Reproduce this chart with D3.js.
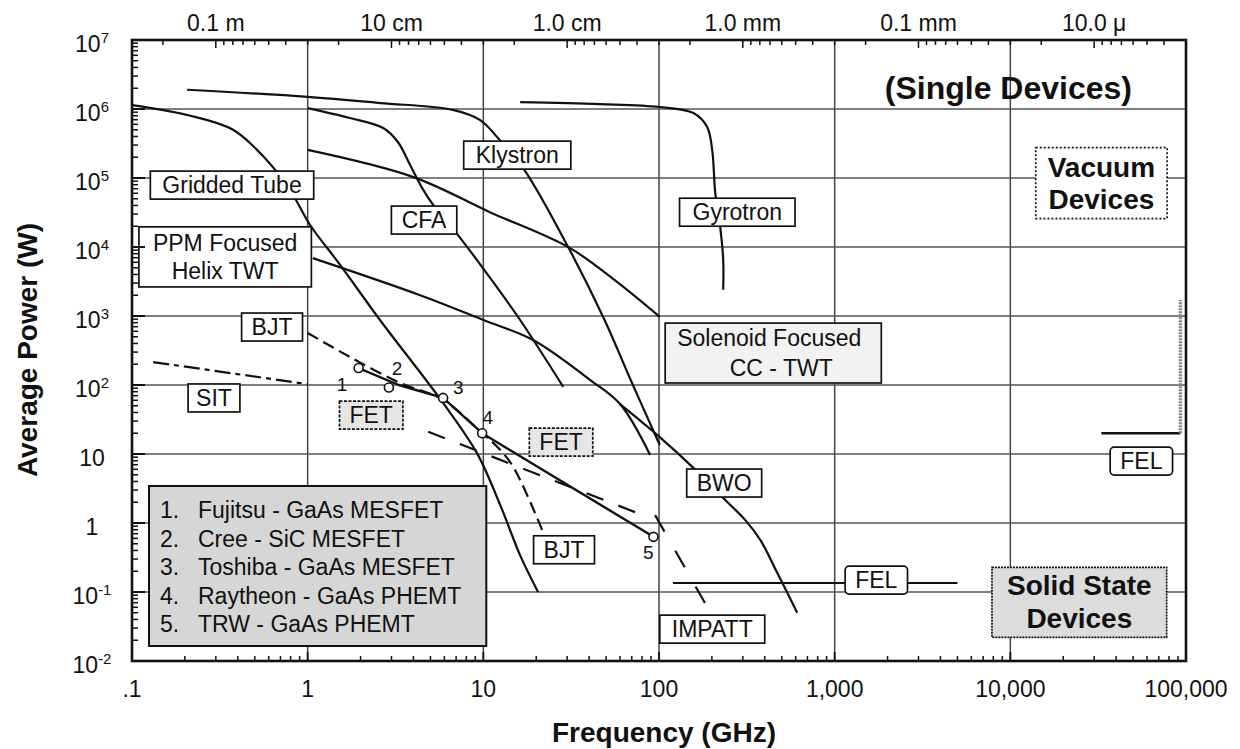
<!DOCTYPE html>
<html><head><meta charset="utf-8">
<script src="https://cdn.jsdelivr.net/npm/d3@7"></script>
<style>
body{margin:0;background:#fff;}
svg text{font-family:"Liberation Sans", Arial, Helvetica, sans-serif;fill:#111;}
</style></head><body>
<svg id="chart" width="1240" height="749"></svg>
<script>
// ---------------- data ----------------
const xTicks = [0.1, 1, 10, 100, 1000, 10000, 100000];
const xTickLabels = [".1", "1", "10", "100", "1,000", "10,000", "100,000"];
const yTicks = [1e-2, 1e-1, 1, 10, 1e2, 1e3, 1e4, 1e5, 1e6, 1e7];
const yTickBase = ["10", "10", "1", "10", "10", "10", "10", "10", "10", "10"];
const yTickExp = ["-2", "-1", "", "", "2", "3", "4", "5", "6", "7"];
const wavelengthFreqs = [0.3, 3, 30, 300, 3000, 30000];
const wavelengthLabels = ["0.1 m", "10 cm", "1.0 cm", "1.0 mm", "0.1 mm", "10.0 \u03bc"];

// vacuum devices  [GHz, W]
const klystron = [[0.206,1.9e6],[1,1.5e6],[2.6,1.22e6],[6.7,9.7e5],[9.6,6.9e5],[12,3.9e5],[17,1.35e5],[31,9.1e3],[49,875],[69,118],[101,13.5]];
const cfa = [[1,1.03e6],[1.74,7.4e5],[2.69,5.3e5],[3.27,3.3e5],[3.83,1.54e5],[4.48,7.2e4],[5.17,4.1e4],[7.1,1.54e4],[10.9,3.6e3],[16.2,875],[28.5,94]];
const griddedTube = [[0.1,1.14e6],[0.206,8.2e5],[0.376,5.0e5],[0.587,1.8e5],[0.794,6.7e4],[1.03,2.1e4],[1.53,5.5e3],[2.58,875],[5.9,55],[9.2,10.3],[12.5,1.8],[16.2,0.34],[20.5,0.1]];
const ccTwt = [[1,2.55e5],[4,1.03e5],[10.9,3.2e4],[31,9.7e3],[56,3.3e3],[101,970]];
const helixTwt = [[1.07,6.9e3],[4.37,2.0e3],[10,875],[19.2,449],[40.6,118],[60,53],[89,9.7]];
const bwo = [[60,53],[101,17.6],[157,6.3],[232,2.3],[310,1.1],[377,0.57],[471,0.19],[612,0.05]];
const gyrotron = [[16.2,1.26e6],[46,1.18e6],[101,1.07e6],[157,8.75e5],[188,5.5e5],[201,2.5e5],[209,6.1e4],[223,1.95e4],[232,6.5e3],[232,2.4e3]];
const felLow = [[120,0.135],[5000,0.135]];
const felHigh = [[33000,20],[93000,20]];
const felHighEdge = [[93000,20],[93000,1700]];

// solid state devices
const sit = [[0.132,215],[1,103]];
const bjt = [[1,568],[1.74,255],[3.36,107],[5.9,61],[9.85,20],[12.5,11.4],[14.8,6.5],[20.5,1.1],[22.5,0.61]];
const fetSolid = [[1.95,176],[3.3,100],[5.9,65],[9.85,20],[93,0.63]];
const fetDashed = [[4.85,21],[75,1.4]];
const impatt = [[95,1.3],[200,0.046]];

// individual device results
const deviceNums = ["1", "2", "3", "4", "5"];
const deviceFreq = [2.9, 1.95, 5.9, 9.85, 93];
const devicePower = [92, 176, 65, 20, 0.63];
const deviceNumFreq = [1.57, 3.23, 7.2, 10.6, 87];
const deviceNumPower = [103, 176, 91, 34, 0.37];

const legendItems = ["Fujitsu - GaAs MESFET", "Cree - SiC MESFET", "Toshiba - GaAs MESFET", "Raytheon - GaAs PHEMT", "TRW - GaAs PHEMT"];

// curve labels (text, anchor frequency GHz, anchor power W)
const curveLabels = [
  {lines:["Gridded Tube"], f:0.371, p:7.9e4, padX:12},
  {lines:["PPM Focused","Helix TWT"], f:0.339, p:7.2e3, padX:14, lh:1.22, padY:3},
  {lines:["CFA"], f:4.6, p:2.46e4},
  {lines:["Klystron"], f:15.6, p:2.15e5, padX:12},
  {lines:["Gyrotron"], f:279, p:3.2e4, padX:13},
  {lines:["Solenoid Focused","CC - TWT"], f:447, p:291, padX:16, lh:1.3, padY:2, fill:"#f2f2f2", shift:[-4,8]},
  {lines:["BJT"], f:0.627, p:693},
  {lines:["SIT"], f:0.293, p:65, padX:8},
  {lines:["FET"], f:2.3, p:36.7, fill:"#e6e6e6", dash:"3,1.5"},
  {lines:["FET"], f:27.7, p:14.9, fill:"#e6e6e6", dash:"3,1.5"},
  {lines:["BJT"], f:28.8, p:0.41},
  {lines:["BWO"], f:235, p:3.8},
  {lines:["IMPATT"], f:201, p:0.029, padX:12},
  {lines:["FEL"], f:1726, p:0.149, rx:4},
  {lines:["FEL"], f:55700, p:7.9, rx:4},
  {lines:["Vacuum","Devices"], f:33000, p:8.5e4, size:28, bold:true, lh:1.14, padX:12, padY:4, dash:"2,2"},
  {lines:["Solid State","Devices"], f:24700, p:0.0716, size:28, bold:true, lh:1.18, padX:15, padY:3, fill:"#dcdcdc", dash:"2,1"}
];

// ---------------- chart ----------------
const svg = d3.select("#chart");
const x = d3.scaleLog().domain([0.1, 1e5]).range([132, 1186]);
const y = d3.scaleLog().domain([1e-2, 1e7]).range([661, 40]);
const [X0, X1] = x.range(), [Y0, Y1] = [y.range()[1], y.range()[0]];

const gGrid = svg.append("g");
const gCurves = svg.append("g");
const gLabels = svg.append("g");
const gAxes = svg.append("g");

// grid
gGrid.selectAll(".vg").data(xTicks.slice(1, -1)).join("line")
  .attr("x1", d => x(d)).attr("x2", d => x(d)).attr("y1", Y0).attr("y2", Y1)
  .attr("stroke", "#444").attr("stroke-width", 1.5);
gGrid.selectAll(".hg").data(yTicks.slice(1, -1)).join("line")
  .attr("y1", d => y(d)).attr("y2", d => y(d)).attr("x1", X0).attr("x2", X1)
  .attr("stroke", "#555").attr("stroke-width", 1.7);

// curves
const smooth = d3.line().x(d => x(d[0])).y(d => y(d[1])).curve(d3.curveCatmullRom.alpha(0.5));
const straight = d3.line().x(d => x(d[0])).y(d => y(d[1]));
function curve(data, gen, opts = {}) {
  gCurves.append("path").attr("d", gen(data)).attr("fill", "none")
    .attr("stroke", opts.color || "#111").attr("stroke-width", opts.w || 2.2)
    .attr("stroke-dasharray", opts.dash || null).attr("stroke-linejoin", "round");
}
curve(klystron, smooth);
curve(cfa, smooth);
curve(griddedTube, smooth);
curve(ccTwt, smooth);
curve(helixTwt, smooth);
curve(bwo, smooth);
curve(gyrotron, smooth);
curve(felLow, straight);
curve(felHigh, straight, {w: 2.4});
curve(felHighEdge, straight, {color: "#888", w: 3.5, dash: "2,1"});
curve(sit, straight, {dash: "16,5,5,5"});
curve(bjt, smooth, {dash: "12,6"});
curve(fetSolid, straight, {w: 2.4});
curve(fetDashed, straight, {dash: "18,16"});
curve(impatt, straight, {dash: "19,22"});

// device points
gCurves.selectAll(".pt").data(deviceFreq).join("circle")
  .attr("cx", (d) => x(d)).attr("cy", (d, i) => y(devicePower[i])).attr("r", 4.5)
  .attr("fill", "#fff").attr("stroke", "#111").attr("stroke-width", 1.6);
gCurves.selectAll(".pn").data(deviceNums).join("text")
  .attr("x", (d, i) => x(deviceNumFreq[i])).attr("y", (d, i) => y(deviceNumPower[i]))
  .attr("dy", "0.35em").attr("text-anchor", "middle").attr("font-size", 19).text(d => d);

// labels
function boxLabel(o) {
  const size = o.size || 23;
  const cx = x(o.f), cy = y(o.p);
  const g = gLabels.append("g");
  const rect = g.append("rect");
  const t = g.append("text").attr("text-anchor", "middle").attr("font-size", size)
    .attr("font-weight", o.bold ? "bold" : "normal");
  const lh = size * (o.lh || 1.2), n = o.lines.length;
  o.lines.forEach((s, i) => {
    t.append("tspan").attr("x", cx + (o.shift ? o.shift[i] : 0))
      .attr("y", cy + (i - (n - 1) / 2) * lh).attr("dy", "0.35em").text(s);
  });
  const bb = t.node().getBBox();
  const px = o.padX ?? 10, py = o.padY ?? 1;
  const bw = bb.width;
  rect.attr("x", cx - bw / 2 - px).attr("y", bb.y - py)
    .attr("width", bw + 2 * px).attr("height", bb.height + 2 * py)
    .attr("rx", o.rx || 0)
    .attr("fill", o.fill || "#fff").attr("stroke", "#111").attr("stroke-width", 1.7)
    .attr("stroke-dasharray", o.dash || null);
}
curveLabels.forEach(boxLabel);

// "(Single Devices)"
gLabels.append("text").attr("x", x(9750)).attr("y", y(2.0e6)).attr("dy", "0.35em")
  .attr("text-anchor", "middle").attr("font-size", 32).attr("font-weight", "bold").text("(Single Devices)");

// legend
const legG = gLabels.append("g");
const legRect = legG.append("rect");
const legX = X0 + 28, legTop = 518, legStep = 28.5;
legendItems.forEach((s, i) => {
  legG.append("text").attr("x", legX).attr("y", legTop + i * legStep).attr("font-size", 23).text((i + 1) + ".");
  legG.append("text").attr("x", legX + 38).attr("y", legTop + i * legStep).attr("font-size", 23).text(s);
});
const lb = legG.node().getBBox();
legRect.attr("x", lb.x - 11).attr("y", lb.y - 11).attr("width", lb.width + 36).attr("height", lb.height + 20)
  .attr("fill", "#d6d6d6").attr("stroke", "#111").attr("stroke-width", 2);
legRect.lower();

// axes: ticks
const minorX = [];
for (let k = -1; k < 5; k++) for (let m = 2; m <= 9; m++) minorX.push(m * Math.pow(10, k));
gAxes.selectAll(".mxb").data(minorX).join("line")
  .attr("x1", d => x(d)).attr("x2", d => x(d)).attr("y1", Y1).attr("y2", Y1 - 5)
  .attr("stroke", "#111").attr("stroke-width", 1.5);
gAxes.selectAll(".Mxb").data(xTicks).join("line")
  .attr("x1", d => x(d)).attr("x2", d => x(d)).attr("y1", Y1).attr("y2", Y1 - 9)
  .attr("stroke", "#111").attr("stroke-width", 1.8);

const minorY = [];
for (let k = -2; k < 7; k++) for (let m = 2; m <= 9; m++) minorY.push(m * Math.pow(10, k));
gAxes.selectAll(".my").data(minorY).join("line")
  .attr("y1", d => y(d)).attr("y2", d => y(d)).attr("x1", X0).attr("x2", X0 + 6)
  .attr("stroke", "#111").attr("stroke-width", 1.5);
gAxes.selectAll(".My").data(yTicks).join("line")
  .attr("y1", d => y(d)).attr("y2", d => y(d)).attr("x1", X0).attr("x2", X0 + 13)
  .attr("stroke", "#111").attr("stroke-width", 2);

// top wavelength ticks (lambda = m * 10^k metres  ->  f = 0.3 / lambda GHz)
const topTicks = [];
for (let k = -6; k <= 0; k++) for (let m = 1; m <= 9; m++) {
  const f = 0.3 / (m * Math.pow(10, k));
  if (f >= 0.1 && f <= 1e5) topTicks.push({f, major: m === 1});
}
gAxes.selectAll(".tt").data(topTicks).join("line")
  .attr("x1", d => x(d.f)).attr("x2", d => x(d.f)).attr("y1", Y0).attr("y2", d => Y0 + (d.major ? 8 : 5))
  .attr("stroke", "#111").attr("stroke-width", 1.5);

// frame
gAxes.append("rect").attr("x", X0).attr("y", Y0).attr("width", X1 - X0).attr("height", Y1 - Y0)
  .attr("fill", "none").attr("stroke", "#111").attr("stroke-width", 2.6);

// tick labels
gAxes.selectAll(".xl").data(xTicks).join("text")
  .attr("x", d => x(d)).attr("y", 697).attr("text-anchor", "middle").attr("font-size", 23)
  .text((d, i) => xTickLabels[i]);
const yl = gAxes.selectAll(".yl").data(yTicks).join("text")
  .attr("x", 92).attr("y", d => y(d) + 12).attr("text-anchor", "middle").attr("font-size", 23);
yl.append("tspan").text((d, i) => yTickBase[i]);
yl.filter((d, i) => yTickExp[i] !== "").append("tspan").attr("font-size", 15).attr("dy", -9)
  .text(function (d) { return yTickExp[yTicks.indexOf(d)]; });
gAxes.selectAll(".wl").data(wavelengthFreqs).join("text")
  .attr("x", d => x(d)).attr("y", 31).attr("text-anchor", "middle").attr("font-size", 23)
  .text((d, i) => wavelengthLabels[i]);

// axis titles
gAxes.append("text").attr("x", 664).attr("y", 742).attr("text-anchor", "middle")
  .attr("font-size", 28).attr("font-weight", "bold").text("Frequency (GHz)");
gAxes.append("text").attr("transform", "translate(37,350) rotate(-90)").attr("text-anchor", "middle")
  .attr("font-size", 28).attr("font-weight", "bold").text("Average Power (W)");
</script>
</body></html>
